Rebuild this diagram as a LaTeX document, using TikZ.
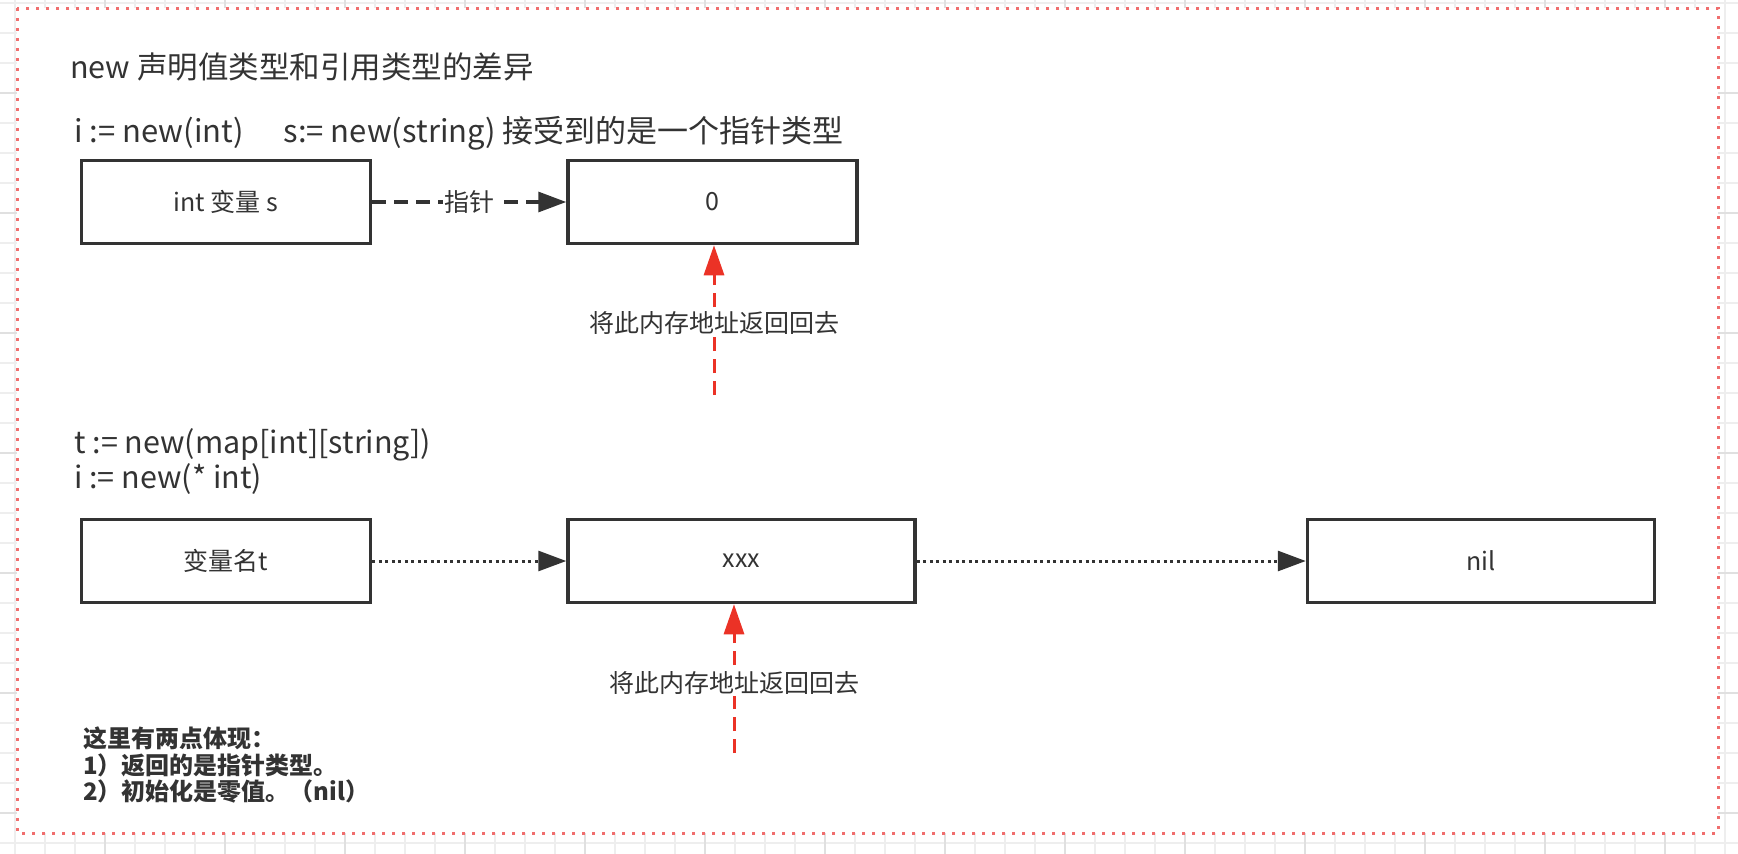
\documentclass[tikz,border=0pt]{standalone}
\usepackage{fontspec}
\setmainfont{Noto Sans CJK SC}
\usetikzlibrary{arrows.meta,positioning,calc}
\definecolor{cellGray}{RGB}{51,51,51}
\definecolor{textGray}{RGB}{51,51,51}
\definecolor{retRed}{RGB}{235,50,38}
\definecolor{frameRed}{RGB}{240,110,110}
\definecolor{gridMinor}{RGB}{238,238,238}
\definecolor{gridMajor}{RGB}{224,224,224}
\tikzset{
  memcell/.style={draw=cellGray, line width=3.5pt, fill=white, minimum height=83pt, text=textGray, font=\fontsize{25}{30}\selectfont},
  ptrarrow/.style={-{Triangle[length=28pt,width=20pt]}, line width=3.2pt, draw=cellGray, dash pattern=on 14pt off 8pt},
  refarrow/.style={-{Triangle[length=28pt,width=20pt]}, line width=3pt, draw=cellGray, dash pattern=on 3pt off 3.5pt},
  retarrow/.style={-{Triangle[length=30pt,width=20pt]}, line width=3pt, draw=retRed, dash pattern=on 14pt off 8pt},
  tag/.style={fill=white, inner sep=1.5pt, text=textGray, font=\fontsize{25}{30}\selectfont},
  heading/.style={anchor=west, inner sep=0pt, text=textGray, font=\fontsize{30.5}{35}\selectfont, align=left},
  note/.style={anchor=west, inner sep=0pt, text=textGray, font=\bfseries\fontsize{24}{26.5}\selectfont, align=left},
  gridline/.style={draw=gridMinor, line width=1.5pt},
  frame/.style={draw=frameRed, fill=white, line width=3pt, dash pattern=on 3pt off 7pt}
}

\begin{document}
\begin{tikzpicture}[x=1pt, y=-1pt, node distance=194pt]
  \useasboundingbox (0,0) rectangle (1738,854);
  % canvas grid behind the frame
  \foreach \gx in {15,45,...,1735} \draw[gridline] (\gx,0) -- (\gx,854);
  \foreach \gy in {3,33,...,853} \draw[gridline] (0,\gy) -- (1738,\gy);
  \foreach \gx in {105,225,...,1735} \draw[gridline, draw=gridMajor] (\gx,0) -- (\gx,854);
  \foreach \gy in {93,213,...,853} \draw[gridline, draw=gridMajor] (0,\gy) -- (1738,\gy);
  \draw[frame] (17,8) rectangle (1718,833);

  \node[heading] (title) at (70,67) {new 声明值类型和引用类型的差异};
  \node[heading, font=\fontsize{31}{35}\selectfont] (valdecl) at (74,133) {i := new(int)\hspace{40pt}s:= new(string) 接受到的是一个指针类型};

  % value type
  \node[memcell, minimum width=289pt] (ivar) at (226,202) {int 变量 s};
  \node[memcell, minimum width=289pt, right=of ivar] (zero) {0};
  \draw[ptrarrow] (ivar) -- node[tag]{指针} (zero);
  \coordinate (ret1) at (714,395);
  \draw[retarrow] (ret1) -- node[tag, pos=0.48]{将此内存地址返回回去} (ret1 |- zero.south);

  % reference type
  \node[heading] (refdecl) at (74,462) {t := new(map[int][string])\\i := new(* int)};
  \node[memcell, minimum width=289pt] (tvar) at (226,561) {变量名t};
  \node[memcell, minimum width=347pt, right=of tvar] (addr) {xxx};
  \node[memcell, minimum width=347pt, right=389pt of addr] (nilv) {nil};
  \draw[refarrow] (tvar) -- (addr);
  \draw[refarrow] (addr) -- (nilv);
  \coordinate (ret2) at (734,753);
  \draw[retarrow] (ret2) -- node[tag, pos=0.47]{将此内存地址返回回去} (ret2 |- addr.south);

  \node[note] (summary) at (83,765) {这里有两点体现：\\1）返回的是指针类型。\\2）初始化是零值。（nil）};
\end{tikzpicture}
\end{document}
